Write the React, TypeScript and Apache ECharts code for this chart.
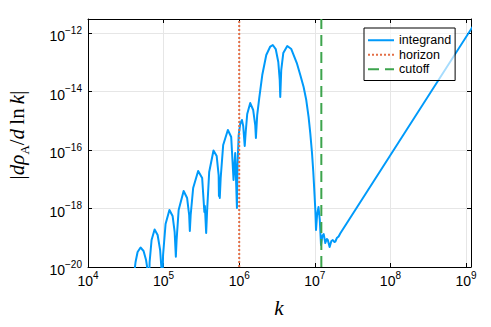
import React, { useEffect, useRef } from 'react';
import * as echarts from 'echarts';

// log10(k) and log10(|d rho_A / d ln k|)
const logK = [
  4.609, 4.629, 4.656, 4.695, 4.735, 4.768, 4.788, 4.799,
  4.801, 4.815, 4.841, 4.881, 4.921, 4.954, 4.971, 4.976,
  4.980, 4.993, 5.026, 5.077, 5.119, 5.146, 5.162,
  5.172, 5.199, 5.265, 5.311, 5.338, 5.347,
  5.358, 5.391, 5.457, 5.510, 5.539, 5.546, 5.563,
  5.576, 5.603, 5.660, 5.702, 5.728, 5.732, 5.738, 5.743,
  5.755, 5.788, 5.850, 5.894, 5.925, 5.947, 5.970,
  5.978, 5.993, 6.013, 6.036, 6.053, 6.073, 6.086, 6.106, 6.146, 6.185,
  6.212, 6.221, 6.238, 6.265, 6.305, 6.358, 6.411, 6.444, 6.483, 6.517,
  6.536, 6.543, 6.556, 6.583, 6.636, 6.689, 6.762, 6.808, 6.852, 6.887,
  6.918, 6.940, 6.963, 6.980, 6.993, 7.007, 7.016, 7.030, 7.049, 7.066,
  7.082, 7.099, 7.117, 7.132, 7.139, 7.159, 7.172, 7.196, 7.219, 7.238,
  7.258, 7.272, 7.291, 7.315, 7.338, 9.10,
];
const logRho = [
  -20.274, -19.829, -19.487, -19.333, -19.453, -19.761, -20.103, -21.5,
  -21.5, -19.829, -19.077, -18.718, -18.906, -19.419, -20.034, -21.5,
  -21.5, -19.590, -18.530, -18.051, -18.256, -18.803, -19.648,
  -19.077, -18.051, -17.402, -17.641, -18.222, -18.769,
  -18.222, -17.299, -16.718, -16.957, -18.120, -17.915, -18.838,
  -18.051, -16.752, -16.017, -16.205, -16.855, -17.573, -17.299, -17.641,
  -16.957, -15.829, -15.316, -15.556, -17.026, -16.103, -17.983,
  -16.513, -15.487, -15.111, -14.974, -15.179, -15.863, -15.385, -14.769, -14.393, -14.632,
  -15.145, -15.590, -14.803, -14.222, -13.436, -12.752, -12.462, -12.410, -12.547, -12.991,
  -13.607, -14.188, -13.265, -12.684, -12.444, -12.547, -13.026, -13.436, -13.846, -14.291,
  -14.872, -15.419, -16.103, -16.752, -17.368, -18.051, -18.735, -18.222, -17.949, -18.393,
  -19.248, -18.940, -18.872, -19.077, -19.179, -19.043, -19.077, -19.316, -19.111, -19.077,
  -19.145, -19.128, -19.009, -18.957, -18.848, -11.735,
];
const horizonK = 1e6;
const cutoffK = 1.22e7;
const seriesNames = ['integrand', 'horizon', 'cutoff'];
const xRange = [1e4, Math.pow(10, 9.066)];
const yRange = [1e-20, Math.pow(10, -11.52)];

const SANS = '"Liberation Sans", Arial, sans-serif';
const SERIF = '"Liberation Serif", "DejaVu Serif", serif';

const powLabel = (v: number) => {
  const e = Math.round(Math.log10(v));
  const es = e < 0 ? '\u2212' + String(-e) : String(e);
  return `{b|10}{e|${es}}`;
};
const labelRich = {
  b: { fontSize: 14, lineHeight: 16, padding: [6, 0, 0, 0], fontFamily: SANS, color: '#000' },
  e: { fontSize: 10, lineHeight: 12, verticalAlign: 'top', fontFamily: SANS, color: '#000' },
};

export default function App() {
  const ref = useRef<HTMLDivElement>(null);
  useEffect(() => {
    if (!ref.current) return;
    const chart = echarts.init(ref.current, undefined, { renderer: 'svg' });
    const integrand = logK.map((k, i) => [Math.pow(10, k), Math.pow(10, logRho[i])]);
    const gridLine = { show: true, lineStyle: { color: '#e6e6e6', width: 1 } };
    const tick = { show: true, inside: true, length: 4, lineStyle: { color: '#000', width: 1 } };
    const axLine = { show: true, onZero: false, lineStyle: { color: '#000', width: 1 } };
    chart.setOption({
      animation: false,
      backgroundColor: '#fff',
      grid: { left: 88, right: 20, top: 19, bottom: 60, outerBoundsMode: 'none', containLabel: false },
      xAxis: [
        {
          type: 'log', logBase: 10, min: xRange[0], max: xRange[1], position: 'bottom',
          axisLine: axLine, axisTick: tick, splitLine: gridLine, minorTick: { show: false },
          axisLabel: { formatter: powLabel, rich: labelRich, margin: 3, showMinLabel: true, showMaxLabel: false, hideOverlap: false },
        },
        {
          type: 'log', logBase: 10, min: xRange[0], max: xRange[1], position: 'top',
          axisLine: axLine, axisTick: tick, splitLine: { show: false }, axisLabel: { show: false },
        },
      ],
      yAxis: [
        {
          type: 'log', logBase: 100, min: yRange[0], max: yRange[1], position: 'left',
          axisLine: axLine, axisTick: tick, splitLine: gridLine, minorTick: { show: false },
          axisLabel: { formatter: powLabel, rich: labelRich, margin: 6, showMinLabel: true, showMaxLabel: false, hideOverlap: false },
        },
        {
          type: 'log', logBase: 100, min: yRange[0], max: yRange[1], position: 'right',
          axisLine: axLine, axisTick: tick, splitLine: { show: false }, axisLabel: { show: false },
        },
      ],
      legend: {
        data: seriesNames,
        orient: 'vertical',
        left: 364,
        top: 28,
        padding: [5, 4, 4, 3],
        itemWidth: 26,
        itemHeight: 13,
        itemGap: 0,
        borderColor: '#000',
        borderWidth: 1,
        borderRadius: 0,
        backgroundColor: 'rgba(255,255,255,0.65)',
        itemStyle: { opacity: 0 },
        textStyle: { fontSize: 12.5, lineHeight: 14.5, fontFamily: SANS, color: '#000' },
      },
      series: [
        {
          name: seriesNames[0], type: 'line', data: integrand, symbol: 'none', showSymbol: false,
          lineStyle: { color: '#009AFA', width: 2, join: 'round' }, itemStyle: { color: '#009AFA' }, clip: true,
          xAxisIndex: 0, yAxisIndex: 0,
        },
        {
          name: seriesNames[1], type: 'line', data: [[horizonK, yRange[0]], [horizonK, yRange[1]]], symbol: 'none',
          lineStyle: { color: '#E36F47', width: 2, type: [2, 2] }, itemStyle: { color: '#E36F47' }, clip: true,
          xAxisIndex: 0, yAxisIndex: 0,
        },
        {
          name: seriesNames[2], type: 'line', data: [[cutoffK, yRange[0]], [cutoffK, yRange[1]]], symbol: 'none',
          lineStyle: { color: '#3DA44D', width: 2, type: [11, 6] }, itemStyle: { color: '#3DA44D' }, clip: true,
          xAxisIndex: 0, yAxisIndex: 0,
        },
      ],
      graphic: [
        {
          type: 'text', x: 279, y: 308,
          style: { text: 'k', fontFamily: SERIF, fontStyle: 'italic', fontSize: 21, fill: '#000', align: 'center', verticalAlign: 'middle' },
        },
        {
          type: 'text', x: 17, y: 135, rotation: Math.PI / 2,
          style: {
            text: '{r||}{i|d\u03C1}{s|A}{r|/}{i|d}{r|\u2009ln\u2009}{i|k}{r||}',
            align: 'center', verticalAlign: 'middle', fill: '#000',
            rich: {
              r: { fontFamily: SERIF, fontSize: 21, lineHeight: 21, verticalAlign: 'top', color: '#000' },
              i: { fontFamily: SERIF, fontStyle: 'italic', fontSize: 21, lineHeight: 21, verticalAlign: 'top', color: '#000' },
              s: { fontFamily: SERIF, fontSize: 13, lineHeight: 13, padding: [11, 0, 0, 0], verticalAlign: 'top', color: '#000' },
            },
          },
        },
      ],
    });
    return () => chart.dispose();
  }, []);
  return <div ref={ref} style={{ position: 'fixed', left: 0, top: 0, width: 491, height: 327 }} />;
}
